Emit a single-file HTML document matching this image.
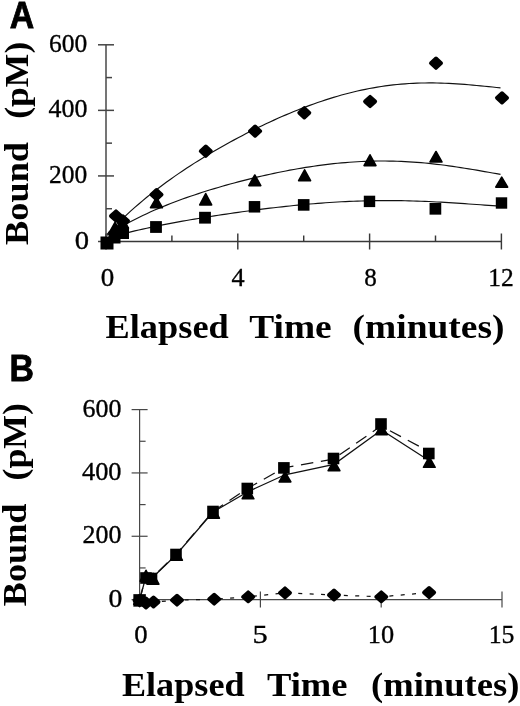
<!DOCTYPE html>
<html><head><meta charset="utf-8"><title>Figure</title>
<style>html,body{margin:0;padding:0;background:#fff;overflow:hidden;} svg{display:block;filter:grayscale(1);}</style>
</head><body>
<svg width="520" height="706" viewBox="0 0 520 706">
<path d="M106.0 44.8V241.5" stroke="#666" stroke-width="1.8" fill="none"/>
<g stroke="#444" stroke-width="1.5" fill="none">
<path d="M98.0 241.50H114.0"/>
<path d="M98.0 175.93H114.0"/>
<path d="M98.0 110.37H114.0"/>
<path d="M98.0 44.80H114.0"/>
<path d="M106.0 208.72H112.0"/>
<path d="M106.0 143.15H112.0"/>
<path d="M106.0 77.58H112.0"/>
</g>
<g stroke="#383838" stroke-width="1.45" fill="none">
<path d="M106.0 241.5H501.4"/>
<path d="M106.00 233.5V249.5"/>
<path d="M237.80 233.5V249.5"/>
<path d="M369.60 233.5V249.5"/>
<path d="M501.40 233.5V249.5"/>
<path d="M171.90 235.5V241.5"/>
<path d="M303.70 235.5V241.5"/>
<path d="M435.50 235.5V241.5"/>
</g>
<g stroke="#111" stroke-width="1.15" fill="none">
<path d="M107.00 234.46 L110.97 230.25 L114.95 226.16 L118.92 222.19 L122.90 218.34 L126.87 214.59 L130.85 210.95 L134.82 207.41 L138.80 203.96 L142.77 200.59 L146.75 197.31 L150.72 194.12 L154.70 190.99 L158.67 187.94 L162.65 184.95 L166.62 182.03 L170.60 179.17 L174.57 176.37 L178.55 173.62 L182.52 170.93 L186.49 168.28 L190.47 165.69 L194.44 163.14 L198.42 160.64 L202.39 158.17 L206.37 155.75 L210.34 153.37 L214.32 151.03 L218.29 148.73 L222.27 146.46 L226.24 144.23 L230.22 142.03 L234.19 139.87 L238.17 137.74 L242.14 135.64 L246.12 133.58 L250.09 131.56 L254.07 129.56 L258.04 127.60 L262.02 125.68 L265.99 123.79 L269.96 121.93 L273.94 120.11 L277.91 118.32 L281.89 116.57 L285.86 114.86 L289.84 113.18 L293.81 111.54 L297.79 109.94 L301.76 108.37 L305.74 106.85 L309.71 105.37 L313.69 103.93 L317.66 102.53 L321.64 101.18 L325.61 99.87 L329.59 98.60 L333.56 97.38 L337.54 96.20 L341.51 95.07 L345.48 93.99 L349.46 92.96 L353.43 91.98 L357.41 91.04 L361.38 90.16 L365.36 89.33 L369.33 88.54 L373.31 87.81 L377.28 87.13 L381.26 86.50 L385.23 85.93 L389.21 85.40 L393.18 84.93 L397.16 84.51 L401.13 84.14 L405.11 83.82 L409.08 83.55 L413.06 83.33 L417.03 83.16 L421.01 83.04 L424.98 82.96 L428.95 82.93 L432.93 82.94 L436.90 83.00 L440.88 83.10 L444.85 83.24 L448.83 83.41 L452.80 83.62 L456.78 83.87 L460.75 84.14 L464.73 84.44 L468.70 84.77 L472.68 85.12 L476.65 85.48 L480.63 85.86 L484.60 86.25 L488.58 86.65 L492.55 87.05 L496.53 87.45 L500.50 87.84"/>
<path d="M107.00 235.36 L110.97 232.84 L114.95 230.40 L118.92 228.05 L122.90 225.78 L126.87 223.59 L130.85 221.47 L134.82 219.42 L138.80 217.43 L142.77 215.51 L146.75 213.65 L150.72 211.84 L154.70 210.09 L158.67 208.38 L162.65 206.73 L166.62 205.12 L170.60 203.55 L174.57 202.02 L178.55 200.53 L182.52 199.08 L186.49 197.66 L190.47 196.28 L194.44 194.93 L198.42 193.61 L202.39 192.32 L206.37 191.06 L210.34 189.82 L214.32 188.61 L218.29 187.43 L222.27 186.27 L226.24 185.14 L230.22 184.03 L234.19 182.94 L238.17 181.88 L242.14 180.84 L246.12 179.83 L250.09 178.83 L254.07 177.86 L258.04 176.92 L262.02 175.99 L265.99 175.09 L269.96 174.21 L273.94 173.36 L277.91 172.53 L281.89 171.72 L285.86 170.94 L289.84 170.19 L293.81 169.46 L297.79 168.75 L301.76 168.08 L305.74 167.43 L309.71 166.81 L313.69 166.21 L317.66 165.65 L321.64 165.11 L325.61 164.61 L329.59 164.14 L333.56 163.69 L337.54 163.28 L341.51 162.91 L345.48 162.56 L349.46 162.25 L353.43 161.97 L357.41 161.73 L361.38 161.52 L365.36 161.35 L369.33 161.21 L373.31 161.11 L377.28 161.04 L381.26 161.01 L385.23 161.02 L389.21 161.06 L393.18 161.14 L397.16 161.25 L401.13 161.40 L405.11 161.59 L409.08 161.81 L413.06 162.07 L417.03 162.36 L421.01 162.68 L424.98 163.04 L428.95 163.43 L432.93 163.86 L436.90 164.31 L440.88 164.79 L444.85 165.30 L448.83 165.84 L452.80 166.40 L456.78 166.98 L460.75 167.59 L464.73 168.22 L468.70 168.86 L472.68 169.52 L476.65 170.19 L480.63 170.88 L484.60 171.57 L488.58 172.27 L492.55 172.97 L496.53 173.67 L500.50 174.37"/>
<path d="M107.00 238.18 L110.97 237.04 L114.95 235.94 L118.92 234.87 L122.90 233.83 L126.87 232.83 L130.85 231.85 L134.82 230.91 L138.80 229.98 L142.77 229.09 L146.75 228.21 L150.72 227.36 L154.70 226.53 L158.67 225.72 L162.65 224.92 L166.62 224.15 L170.60 223.39 L174.57 222.64 L178.55 221.91 L182.52 221.19 L186.49 220.49 L190.47 219.80 L194.44 219.12 L198.42 218.45 L202.39 217.80 L206.37 217.15 L210.34 216.52 L214.32 215.89 L218.29 215.28 L222.27 214.67 L226.24 214.07 L230.22 213.49 L234.19 212.91 L238.17 212.35 L242.14 211.79 L246.12 211.24 L250.09 210.71 L254.07 210.18 L258.04 209.67 L262.02 209.16 L265.99 208.67 L269.96 208.19 L273.94 207.71 L277.91 207.26 L281.89 206.81 L285.86 206.37 L289.84 205.95 L293.81 205.54 L297.79 205.15 L301.76 204.76 L305.74 204.40 L309.71 204.04 L313.69 203.71 L317.66 203.39 L321.64 203.08 L325.61 202.79 L329.59 202.51 L333.56 202.26 L337.54 202.02 L341.51 201.80 L345.48 201.59 L349.46 201.40 L353.43 201.24 L357.41 201.09 L361.38 200.95 L365.36 200.84 L369.33 200.75 L373.31 200.67 L377.28 200.62 L381.26 200.58 L385.23 200.56 L389.21 200.56 L393.18 200.58 L397.16 200.62 L401.13 200.67 L405.11 200.75 L409.08 200.84 L413.06 200.95 L417.03 201.08 L421.01 201.22 L424.98 201.38 L428.95 201.55 L432.93 201.74 L436.90 201.95 L440.88 202.16 L444.85 202.39 L448.83 202.63 L452.80 202.88 L456.78 203.13 L460.75 203.40 L464.73 203.67 L468.70 203.95 L472.68 204.22 L476.65 204.51 L480.63 204.79 L484.60 205.07 L488.58 205.34 L492.55 205.61 L496.53 205.87 L500.50 206.13"/>
</g>
<g fill="#000" stroke="#000" stroke-width="3.8" stroke-linejoin="round">
<path d="M116.00 211.30L121.10 216.00L116.00 220.70L110.90 216.00Z"/>
<path d="M123.00 216.30L128.10 221.00L123.00 225.70L117.90 221.00Z"/>
<path d="M156.50 189.90L161.60 194.60L156.50 199.30L151.40 194.60Z"/>
<path d="M205.80 146.50L210.90 151.20L205.80 155.90L200.70 151.20Z"/>
<path d="M255.10 126.40L260.20 131.10L255.10 135.80L250.00 131.10Z"/>
<path d="M304.30 108.10L309.40 112.80L304.30 117.50L299.20 112.80Z"/>
<path d="M370.10 96.80L375.20 101.50L370.10 106.20L365.00 101.50Z"/>
<path d="M436.00 58.50L441.10 63.20L436.00 67.90L430.90 63.20Z"/>
<path d="M502.00 93.20L507.10 97.90L502.00 102.60L496.90 97.90Z"/>
</g>
<g fill="#000" stroke="#000" stroke-width="1.6" stroke-linejoin="round">
<path d="M115.00 222.28L120.96 233.20L109.04 233.20Z"/>
<path d="M122.50 217.28L128.46 228.20L116.54 228.20Z"/>
<path d="M156.50 197.28L162.46 207.70L150.54 207.70Z"/>
<path d="M205.70 193.58L211.66 204.90L199.74 204.90Z"/>
<path d="M254.80 174.98L260.76 185.60L248.84 185.60Z"/>
<path d="M304.60 169.78L310.56 180.70L298.64 180.70Z"/>
<path d="M370.00 154.78L375.96 165.60L364.04 165.60Z"/>
<path d="M436.00 151.48L441.96 162.00L430.04 162.00Z"/>
<path d="M501.70 177.08L507.66 187.10L495.74 187.10Z"/>
</g>
<g fill="#000">
<rect x="100.50" y="236.50" width="13.00" height="13.00"/>
<rect x="108.50" y="231.50" width="12.00" height="12.00"/>
<rect x="117.00" y="227.00" width="12.00" height="12.00"/>
<rect x="150.10" y="221.10" width="11.80" height="11.80"/>
<rect x="199.10" y="211.80" width="11.80" height="11.80"/>
<rect x="248.75" y="201.05" width="11.50" height="11.50"/>
<rect x="297.90" y="199.10" width="11.60" height="11.60"/>
<rect x="363.80" y="195.70" width="11.40" height="11.40"/>
<rect x="429.55" y="202.95" width="11.70" height="11.70"/>
<rect x="495.80" y="197.30" width="11.40" height="11.40"/>
</g>
<text transform="translate(9.86 27.90) scale(0.9417 1.02)" font-family="Liberation Sans" font-weight="bold" font-size="36" stroke="#000" stroke-width="0.8">A</text>
<text transform="translate(49.12 51.90) scale(0.9811 1.0)" font-family="Liberation Serif" font-weight="normal" font-size="26" stroke="#000" stroke-width="0.35">600</text>
<text transform="translate(48.50 117.10) scale(0.9973 1.0)" font-family="Liberation Serif" font-weight="normal" font-size="26" stroke="#000" stroke-width="0.35">400</text>
<text transform="translate(49.12 183.30) scale(0.9811 1.0)" font-family="Liberation Serif" font-weight="normal" font-size="26" stroke="#000" stroke-width="0.35">200</text>
<text transform="translate(74.80 249.40) scale(1.1000 1.0)" font-family="Liberation Serif" font-weight="normal" font-size="26" stroke="#000" stroke-width="0.35">0</text>
<text transform="translate(100.76 285.50) scale(1.0364 1.0)" font-family="Liberation Serif" font-weight="normal" font-size="26" stroke="#000" stroke-width="0.35">0</text>
<text transform="translate(231.59 285.50) scale(1.0083 1.0)" font-family="Liberation Serif" font-weight="normal" font-size="26" stroke="#000" stroke-width="0.35">4</text>
<text transform="translate(364.34 285.50) scale(0.9636 1.0)" font-family="Liberation Serif" font-weight="normal" font-size="26" stroke="#000" stroke-width="0.35">8</text>
<text transform="translate(488.34 285.50) scale(0.9783 1.0)" font-family="Liberation Serif" font-weight="normal" font-size="26" stroke="#000" stroke-width="0.35">12</text>
<text transform="translate(105.53 338.00) scale(1.0689 1.0)" font-family="Liberation Serif" font-weight="bold" font-size="34" >Elapsed</text>
<text transform="translate(249.20 338.00) scale(1.1014 1.0)" font-family="Liberation Serif" font-weight="bold" font-size="34" >Time</text>
<text transform="translate(352.60 338.00) scale(1.1022 1.0)" font-family="Liberation Serif" font-weight="bold" font-size="34" >(minutes)</text>
<text transform="translate(27.50 244.97) rotate(-90) scale(1.0684 1.0)" font-family="Liberation Serif" font-weight="bold" font-size="34">Bound</text>
<text transform="translate(27.50 118.79) rotate(-90) scale(1.0471 1.0)" font-family="Liberation Serif" font-weight="bold" font-size="34">(pM)</text>
<g stroke="#474747" stroke-width="1.2" fill="none">
<path d="M139.6 409.6V599.6H502.0"/>
<path d="M131.6 599.60H147.6"/>
<path d="M131.6 536.27H147.6"/>
<path d="M131.6 472.93H147.6"/>
<path d="M131.6 409.60H147.6"/>
<path d="M139.6 567.93H145.6"/>
<path d="M139.6 504.60H145.6"/>
<path d="M139.6 441.27H145.6"/>
<path d="M139.60 591.6V607.6"/>
<path d="M260.40 591.6V607.6"/>
<path d="M381.20 591.6V607.6"/>
<path d="M502.00 591.6V607.6"/>
</g>
<g fill="none" stroke="#111">
<path d="M139.60 600.00 L145.80 577.00 L152.00 578.00 L176.00 555.00 L213.00 512.00 L248.30 491.50 L285.00 474.80 L334.00 464.30 L381.50 430.00 L429.30 460.70" stroke-width="1.25"/>
<path d="M139.60 600.00 L145.80 576.00 L151.70 578.00 L176.00 554.50 L213.00 511.50 L247.30 488.50 L283.90 467.90 L333.50 459.00 L381.00 426.00 L428.80 451.40" stroke-width="1.25" stroke-dasharray="12.5 7.7"/>
<path d="M139.60 600.50 L146.00 603.00 L153.50 602.00 L177.00 600.20 L214.20 599.20 L248.20 596.80 L285.00 592.80 L334.00 595.00 L381.30 596.80 L429.10 592.50" stroke-width="1.2" stroke-dasharray="4 7.4"/>
</g>
<g fill="#000" stroke="#000" stroke-width="3.8" stroke-linejoin="round">
<path d="M139.60 596.00L144.70 600.50L139.60 605.00L134.50 600.50Z"/>
<path d="M146.00 598.50L151.10 603.00L146.00 607.50L140.90 603.00Z"/>
<path d="M153.50 597.50L158.60 602.00L153.50 606.50L148.40 602.00Z"/>
<path d="M177.00 595.70L182.10 600.20L177.00 604.70L171.90 600.20Z"/>
<path d="M214.20 594.70L219.30 599.20L214.20 603.70L209.10 599.20Z"/>
<path d="M248.20 592.30L253.30 596.80L248.20 601.30L243.10 596.80Z"/>
<path d="M285.00 588.30L290.10 592.80L285.00 597.30L279.90 592.80Z"/>
<path d="M334.00 590.50L339.10 595.00L334.00 599.50L328.90 595.00Z"/>
<path d="M381.30 592.30L386.40 596.80L381.30 601.30L376.20 596.80Z"/>
<path d="M429.10 588.00L434.20 592.50L429.10 597.00L424.00 592.50Z"/>
</g>
<g fill="#000" stroke="#000" stroke-width="1.6" stroke-linejoin="round">
<path d="M139.60 597.28L145.46 604.20L133.74 604.20Z"/>
<path d="M146.00 570.28L151.86 581.20L140.14 581.20Z"/>
<path d="M153.00 573.28L158.86 584.20L147.14 584.20Z"/>
<path d="M176.50 550.28L182.36 560.20L170.64 560.20Z"/>
<path d="M213.50 507.78L219.36 518.20L207.64 518.20Z"/>
<path d="M248.00 488.28L253.86 498.80L242.14 498.80Z"/>
<path d="M285.00 471.78L290.86 481.90L279.14 481.90Z"/>
<path d="M334.00 460.28L339.86 470.70L328.14 470.70Z"/>
<path d="M381.50 424.28L387.36 434.60L375.64 434.60Z"/>
<path d="M429.30 456.78L435.16 467.30L423.44 467.30Z"/>
</g>
<g fill="#000">
<rect x="133.35" y="594.15" width="12.50" height="12.50"/>
<rect x="140.20" y="572.20" width="11.60" height="11.60"/>
<rect x="145.70" y="572.70" width="11.60" height="11.60"/>
<rect x="170.20" y="548.70" width="11.60" height="11.60"/>
<rect x="207.20" y="505.70" width="11.60" height="11.60"/>
<rect x="241.50" y="482.70" width="11.60" height="11.60"/>
<rect x="278.10" y="462.10" width="11.60" height="11.60"/>
<rect x="327.70" y="452.70" width="11.60" height="11.60"/>
<rect x="375.20" y="418.20" width="11.60" height="11.60"/>
<rect x="423.00" y="447.70" width="11.60" height="11.60"/>
</g>
<text transform="translate(9.42 381.00) scale(0.9409 1.0)" font-family="Liberation Sans" font-weight="bold" font-size="36" stroke="#000" stroke-width="0.8">B</text>
<text transform="translate(82.60 417.10) scale(0.9973 1.0)" font-family="Liberation Serif" font-weight="normal" font-size="26" stroke="#000" stroke-width="0.35">600</text>
<text transform="translate(81.99 480.20) scale(1.0135 1.0)" font-family="Liberation Serif" font-weight="normal" font-size="26" stroke="#000" stroke-width="0.35">400</text>
<text transform="translate(82.60 543.30) scale(0.9973 1.0)" font-family="Liberation Serif" font-weight="normal" font-size="26" stroke="#000" stroke-width="0.35">200</text>
<text transform="translate(108.44 607.30) scale(1.0636 1.0)" font-family="Liberation Serif" font-weight="normal" font-size="26" stroke="#000" stroke-width="0.35">0</text>
<text transform="translate(134.27 643.40) scale(1.0273 1.0)" font-family="Liberation Serif" font-weight="normal" font-size="26" stroke="#000" stroke-width="0.35">0</text>
<text transform="translate(252.56 643.40) scale(1.1700 1.0)" font-family="Liberation Serif" font-weight="normal" font-size="26" stroke="#000" stroke-width="0.35">5</text>
<text transform="translate(367.87 643.40) scale(1.0130 1.0)" font-family="Liberation Serif" font-weight="normal" font-size="26" stroke="#000" stroke-width="0.35">10</text>
<text transform="translate(488.72 643.40) scale(0.9913 1.0)" font-family="Liberation Serif" font-weight="normal" font-size="26" stroke="#000" stroke-width="0.35">15</text>
<text transform="translate(121.94 696.40) scale(1.0640 1.0)" font-family="Liberation Serif" font-weight="bold" font-size="34" >Elapsed</text>
<text transform="translate(266.92 696.40) scale(1.0753 1.0)" font-family="Liberation Serif" font-weight="bold" font-size="34" >Time</text>
<text transform="translate(371.05 696.40) scale(1.0761 1.0)" font-family="Liberation Serif" font-weight="bold" font-size="34" >(minutes)</text>
<text transform="translate(26.30 606.16) rotate(-90) scale(1.0642 1.0)" font-family="Liberation Serif" font-weight="bold" font-size="34">Bound</text>
<text transform="translate(26.30 480.40) rotate(-90) scale(1.0500 1.0)" font-family="Liberation Serif" font-weight="bold" font-size="34">(pM)</text>
</svg>
</body></html>
